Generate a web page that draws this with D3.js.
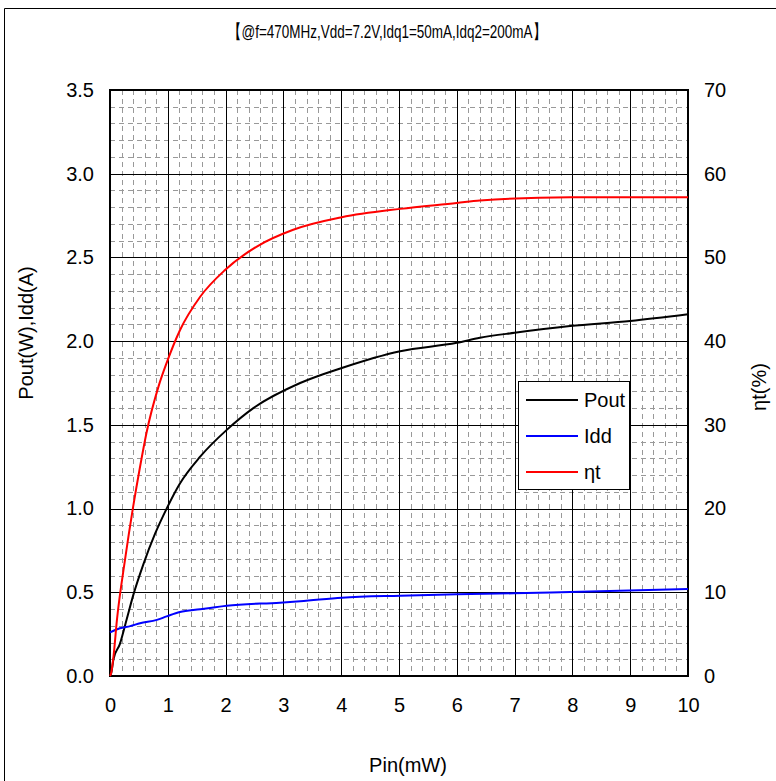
<!DOCTYPE html>
<html><head><meta charset="utf-8">
<script src="https://cdn.jsdelivr.net/npm/d3@7"></script>
<style>body{margin:0;background:#fff}svg{display:block}text{font-family:"Liberation Sans",Arial,sans-serif}</style>
</head><body><svg id="c" width="776" height="781"></svg>
<script>
const title = "【@f=470MHz,Vdd=7.2V,Idq1=50mA,Idq2=200mA】";
const xTicks = [0,1,2,3,4,5,6,7,8,9,10];
const yLeftTicks = [0,0.5,1.0,1.5,2.0,2.5,3.0,3.5];
const yRightTicks = [0,10,20,30,40,50,60,70];
const poutX = [0,0.02,0.06,0.17,0.29,0.40,0.58,0.78,0.98,1.21,1.56,2.02,2.48,3.29,4.01,5.02,6.0,6.4,7.0,7.96,9.0,10];
const poutY = [0,0.016,0.1,0.19,0.34,0.48,0.67,0.85,1.0,1.15,1.31,1.47,1.60,1.75,1.84,1.94,1.99,2.02,2.05,2.09,2.12,2.16];
const iddX = [0,0.17,0.35,0.52,0.81,0.98,1.21,1.56,2.02,2.94,3.29,4.01,5.02,6.0,6.98,7.96,10];
const iddY = [0.26,0.285,0.298,0.315,0.335,0.356,0.382,0.398,0.42,0.438,0.446,0.468,0.48,0.488,0.494,0.502,0.52];
const effX = [0,0.02,0.06,0.12,0.26,0.40,0.52,0.63,0.84,0.98,1.21,1.56,1.99,2.54,3.17,4.01,5.02,6.0,6.4,7.96,10];
const effY = [0,0.35,2.3,6.7,13.9,20.2,25,29,34.6,37.4,41.3,45.3,48.5,51.3,53.3,54.8,55.8,56.5,56.8,57.2,57.2];
const legendNames = ["Pout","Idd","ηt"];
const colors = ["#000000","#0000ff","#ff0000"];

const svg = d3.select("#c");
const L=110, R=688, T=90, B=676;
const FS = 20;
const x = d3.scaleLinear().domain([0,10]).range([L,R]);
const yl = d3.scaleLinear().domain([0,3.5]).range([B,T]);
const yr = d3.scaleLinear().domain([0,70]).range([B,T]);

svg.append("path").attr("d","M4.5,790 V8.5 H790").attr("fill","none").attr("stroke","#000").attr("stroke-width",1);

svg.append("text").attr("x",387).attr("y",38).attr("text-anchor","middle").attr("font-size",19)
  .attr("textLength",318).attr("lengthAdjust","spacingAndGlyphs").text(title);

const g = svg.append("g");
const minorX = d3.range(0,10.001,0.2).filter(v=>Math.abs(v-Math.round(v))>1e-6);
const minorY = d3.range(0,3.5001,0.1).filter(v=>Math.abs(v*2-Math.round(v*2))>1e-6);
g.selectAll(".mx").data(minorX).join("line").attr("x1",d=>Math.round(x(d))+0.5).attr("x2",d=>Math.round(x(d))+0.5).attr("y1",T).attr("y2",B)
  .attr("stroke","#999").attr("stroke-dasharray","5,4");
g.selectAll(".my").data(minorY).join("line").attr("y1",d=>Math.round(yl(d))+0.5).attr("y2",d=>Math.round(yl(d))+0.5).attr("x1",L).attr("x2",R)
  .attr("stroke","#999").attr("stroke-dasharray","5,4");
g.selectAll(".Mx").data(xTicks).join("line").attr("x1",d=>Math.round(x(d))+0.5).attr("x2",d=>Math.round(x(d))+0.5).attr("y1",T).attr("y2",B).attr("stroke","#000");
g.selectAll(".My").data(yLeftTicks).join("line").attr("y1",d=>Math.round(yl(d))+0.5).attr("y2",d=>Math.round(yl(d))+0.5).attr("x1",L).attr("x2",R).attr("stroke","#000");
svg.append("rect").attr("x",L).attr("y",T).attr("width",R-L).attr("height",B-T).attr("fill","none").attr("stroke","#000").attr("stroke-width",2);

const ax = svg.append("g").attr("transform",`translate(0,${B})`).call(d3.axisBottom(x).tickValues(xTicks).tickSize(0).tickPadding(22).tickFormat(d3.format("d")));
const ayl = svg.append("g").attr("transform",`translate(${L},0)`).call(d3.axisLeft(yl).tickValues(yLeftTicks).tickSize(0).tickPadding(16).tickFormat(d3.format(".1f")));
const ayr = svg.append("g").attr("transform",`translate(${R},0)`).call(d3.axisRight(yr).tickValues(yRightTicks).tickSize(0).tickPadding(16).tickFormat(d3.format("d")));
[ax,ayl,ayr].forEach(a=>{a.select(".domain").remove();a.selectAll("text").attr("font-size",FS).attr("font-family","Liberation Sans, Arial, sans-serif").attr("fill","#000");});

svg.append("text").attr("x",408).attr("y",772).attr("text-anchor","middle").attr("font-size",FS).text("Pin(mW)");
svg.append("text").attr("transform","translate(33,333) rotate(-90)").attr("text-anchor","middle").attr("font-size",FS).text("Pout(W),Idd(A)");
svg.append("text").attr("transform","translate(766,387) rotate(-90)").attr("text-anchor","middle").attr("font-size",FS).text("ηt(%)");

const line = (xs,ys,ys2)=>d3.line().curve(d3.curveMonotoneX).x((d,i)=>x(xs[i])).y((d,i)=>ys2(d))(ys);
const cg = svg.append("g").attr("fill","none").attr("stroke-width",2).attr("stroke-linejoin","round");
cg.append("path").attr("d",line(poutX,poutY,yl)).attr("stroke",colors[0]);
cg.append("path").attr("d",line(iddX,iddY,yl)).attr("stroke",colors[1]);
cg.append("path").attr("d",line(effX,effY,yr)).attr("stroke",colors[2]);

const lg = svg.append("g");
lg.append("rect").attr("x",518.5).attr("y",381.5).attr("width",111).attr("height",108).attr("fill","#fff").attr("stroke","#000");
legendNames.forEach((n,i)=>{
  const yy = 400 + i*36;
  lg.append("line").attr("x1",526).attr("x2",578).attr("y1",yy).attr("y2",yy).attr("stroke",colors[i]).attr("stroke-width",2);
  lg.append("text").attr("x",584).attr("y",yy+7).attr("font-size",FS).text(n);
});
</script></body></html>
